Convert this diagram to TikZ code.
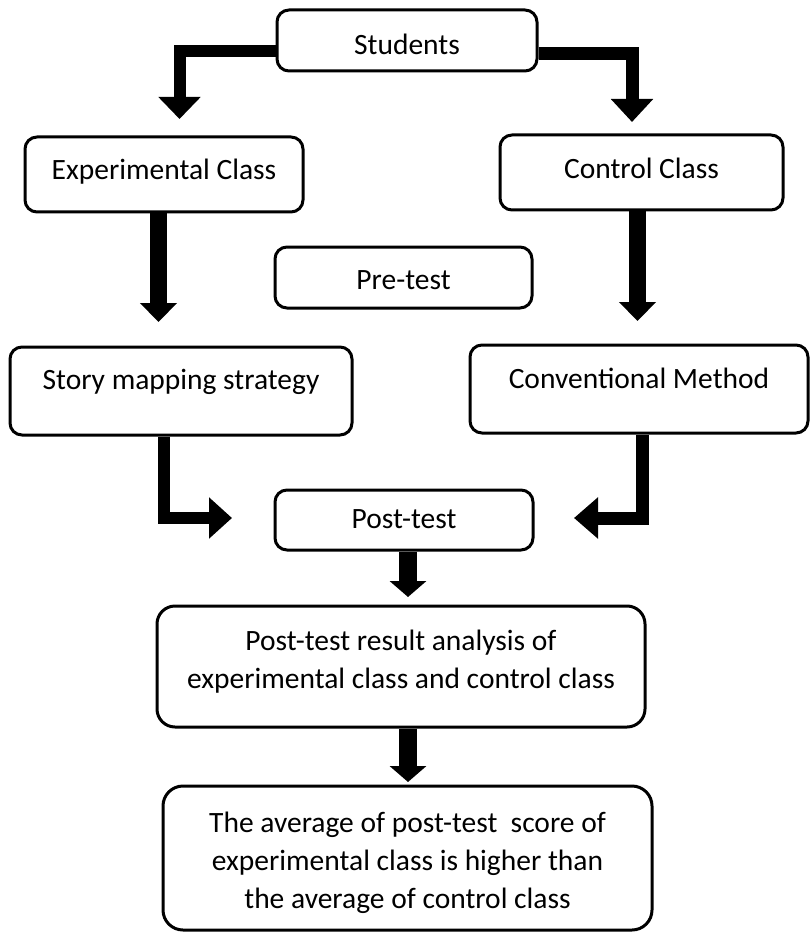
\documentclass[tikz,border=0pt]{standalone}
\usepackage{fontspec}
\setmainfont{Carlito}
\usetikzlibrary{arrows.meta}
\begin{document}
\begin{tikzpicture}[x=1pt,y=-1pt,
  box/.style={draw,line width=3pt,rounded corners=12pt,inner sep=0pt,
    font=\fontsize{29.5}{38}\selectfont,align=center},
  conn/.style={line width=#1,line join=miter,line cap=butt},
  tipA/.style={-{Triangle[width=41pt,length=22pt]}},
  tipB/.style={-{Triangle[width=36pt,length=19pt]}},
  tipC/.style={-{Triangle[width=36pt,length=16pt]}}
]
\useasboundingbox (0,0) rectangle (810,933);

\node[box,minimum width=260pt,minimum height=61pt,text height=39pt,text depth=10pt] (stu) at (407,40.5) {Students};
\node[box,minimum width=278pt,minimum height=75pt,text height=21pt,text depth=10pt] (exp) at (164,174.5) {Experimental Class};
\node[box,minimum width=283pt,minimum height=75pt,text height=23pt,text depth=10pt] (ctl) at (641.5,172.5) {Control Class};
\node[box,minimum width=257pt,minimum height=61pt,text height=33pt,text depth=10pt] (pre) at (403.5,277.5) {Pre-test};
\node[box,minimum width=342pt,minimum height=88pt,text height=10pt,text depth=14pt] (sto) at (181,391) {Story mapping strategy};
\node[box,minimum width=338pt,minimum height=88pt,text height=10pt,text depth=12pt] (cnv) at (639,389) {Conventional Method};
\node[box,minimum width=258pt,minimum height=60pt,text height=26pt,text depth=10pt] (pst) at (404,520) {Post-test};
\node[box,rounded corners=18pt,minimum width=488pt,minimum height=121pt,text height=53pt,text depth=10pt] (ana) at (401,666.5) {Post-test result analysis of\\experimental class and control class};
\node[box,rounded corners=20pt,minimum width=489pt,minimum height=144pt,text height=110pt,text depth=10pt] (fin) at (407.5,858) {The average of post-test \ score of\\experimental class is higher than\\the average of control class};

\coordinate (e1) at (179.5,119);
\coordinate (e2) at (632,122);
\coordinate (e3) at (158.5,322);
\coordinate (e4) at (637.5,321);
\coordinate (e5) at (232,518);
\coordinate (e6) at (574,518);
\coordinate (e7) at (408,597);
\coordinate (e8) at (408,782);

\draw[conn=12pt,tipA] ([yshift=-10.5pt]stu.west) -| (e1);
\draw[conn=13pt,-{Triangle[width=41pt,length=23pt]}] ([yshift=-13pt]stu.east) -| (e2);
\draw[conn=17pt,tipB] (exp.south -| e3) -- (e3);
\draw[conn=17pt,tipB] (ctl.south -| e4) -- (e4);
\draw[conn=12pt,-{Triangle[width=40pt,length=23pt]}] ([xshift=-17.5pt]sto.south) |- (e5);
\draw[conn=13pt,-{Triangle[width=40pt,length=24pt]}] ([xshift=3.5pt]cnv.south) |- (e6);
\draw[conn=18pt,tipC] (pst.south -| e7) -- (e7);
\draw[conn=18pt,tipC] (ana.south -| e8) -- (e8);
\end{tikzpicture}
\end{document}
